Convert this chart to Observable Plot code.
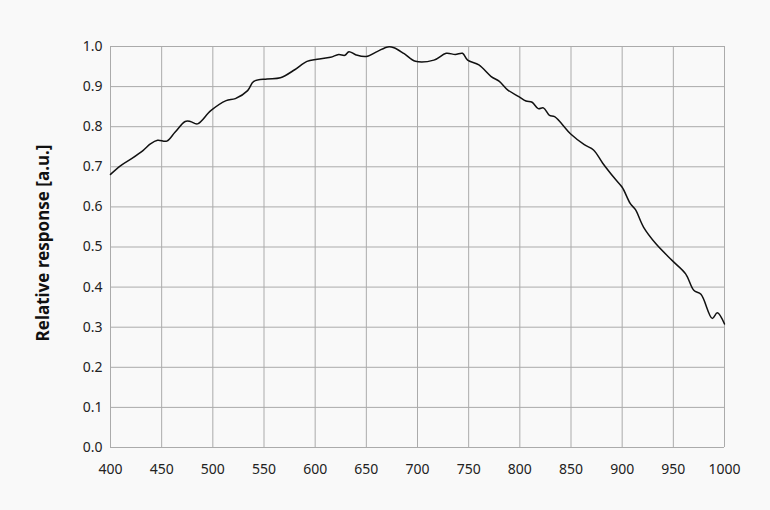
<!DOCTYPE html>
<html>
<head>
<meta charset="utf-8">
<script src="https://cdn.jsdelivr.net/npm/d3@7"></script>
<script src="https://cdn.jsdelivr.net/npm/@observablehq/plot@0.6"></script>
<style>
  html, body { margin: 0; padding: 0; background: #f9f9f9; }
  #chart svg { display: block; }
</style>
</head>
<body>
<div id="chart"></div>
<script>
const wavelength = [400, 410, 421, 432, 439, 446, 455, 463, 473, 478, 485, 498, 513, 522, 534, 540, 553, 566, 580, 592, 602, 615, 623, 629, 633, 640, 650, 661, 671, 677, 687, 698, 716, 728, 737, 744, 749, 760, 772, 780, 788, 799, 806, 812, 818, 823, 829, 834, 850, 863, 872, 881, 893, 900, 908, 913, 921, 933, 949, 962, 970, 977, 988, 993, 1000];
const response = [0.681, 0.703, 0.721, 0.741, 0.757, 0.766, 0.764, 0.786, 0.813, 0.813, 0.807, 0.840, 0.865, 0.870, 0.890, 0.913, 0.919, 0.922, 0.942, 0.963, 0.968, 0.973, 0.980, 0.978, 0.987, 0.979, 0.975, 0.988, 0.999, 0.997, 0.982, 0.963, 0.966, 0.983, 0.980, 0.983, 0.966, 0.954, 0.925, 0.913, 0.892, 0.875, 0.864, 0.861, 0.845, 0.847, 0.828, 0.825, 0.781, 0.755, 0.742, 0.709, 0.670, 0.649, 0.608, 0.593, 0.549, 0.508, 0.466, 0.433, 0.392, 0.382, 0.322, 0.336, 0.308];
const xTicks = [400, 450, 500, 550, 600, 650, 700, 750, 800, 850, 900, 950, 1000];
const yTicks = [0, 0.1, 0.2, 0.3, 0.4, 0.5, 0.6, 0.7, 0.8, 0.9, 1.0];
const yLabel = "Relative response [a.u.]";

const data = wavelength.map((w, i) => ({w, r: response[i]}));

const chart = Plot.plot({
  width: 770,
  height: 510,
  marginLeft: 110,
  marginRight: 46,
  marginTop: 46,
  marginBottom: 63,
  style: {background: "#f9f9f9", fontFamily: "'Noto Sans', sans-serif", fontSize: "14px", color: "#222"},
  x: {domain: [400, 1000], ticks: xTicks, tickFormat: d => String(d), label: null},
  y: {domain: [0, 1], ticks: yTicks, tickFormat: d => d.toFixed(1), label: null},
  marks: [
    Plot.gridX(xTicks, {stroke: "#ababab", strokeOpacity: 1, strokeWidth: 1}),
    Plot.gridY(yTicks, {stroke: "#ababab", strokeOpacity: 1, strokeWidth: 1}),
    Plot.axisX({ticks: xTicks, tickSize: 0, tickPadding: 17, tickFormat: d => String(d), label: null, fontSize: 14}),
    Plot.axisY({ticks: yTicks, tickSize: 0, tickPadding: 8, tickFormat: d => d.toFixed(1), label: null, fontSize: 14}),
    Plot.line(data, {x: "w", y: "r", stroke: "#111", strokeWidth: 1.5, curve: "catmull-rom"})
  ]
});

const svg = d3.select(chart);
svg.append("text")
  .attr("transform", "translate(42,243) rotate(-90)")
  .attr("text-anchor", "middle")
  .attr("dominant-baseline", "central")
  .attr("font-family", "'Noto Sans', sans-serif")
  .attr("font-size", 17)
  .attr("font-weight", "bold")
  .attr("fill", "#111")
  .text(yLabel);

document.getElementById("chart").appendChild(chart);
</script>
</body>
</html>
